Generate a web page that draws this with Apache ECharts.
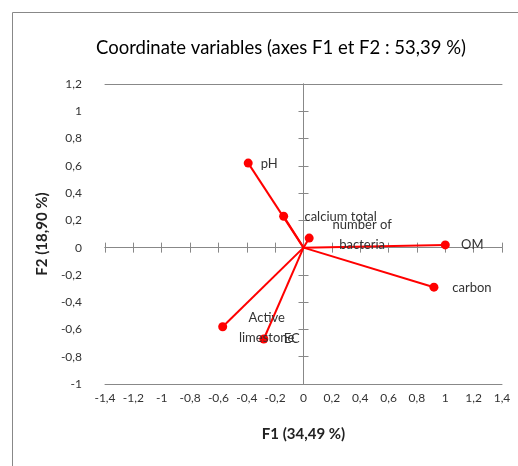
<!DOCTYPE html>
<html>
<head>
<meta charset="utf-8">
<script src="https://cdn.jsdelivr.net/npm/echarts@6/dist/echarts.min.js"></script>
<style>
  html, body { margin: 0; padding: 0; background: #fff; }
  #chart { width: 518px; height: 466px; }
</style>
</head>
<body>
<div id="chart"></div>
<script>
// Variable coordinates on the first two factorial axes
const variables = ['pH', 'calcium total', 'number of\nbacteria', 'OM', 'carbon', 'Active\nlimestone', 'EC'];
const f1 = [-0.39, -0.14, 0.04, 1.00, 0.92, -0.57, -0.28];
const f2 = [0.62, 0.23, 0.07, 0.02, -0.29, -0.58, -0.67];

// Axis ranges and ticks
const xMin = -1.4, xMax = 1.4, xStep = 0.2;
const yMin = -1.0, yMax = 1.2, yStep = 0.2;

// Label placement relative to each end point (pixels)
const labelShift = [[21, 1], [57, 1], [53, -3], [27, 0], [38, 1], [44, 1], [28, 0]];

const FONT = 'Lato, "Open Sans", sans-serif';
const AXIS_GRAY = '#888888';
const fmt = v => String(+(+v).toFixed(1)).replace('.', ',');

const chart = echarts.init(document.getElementById('chart'));

const series = variables.map((name, i) => ({
  type: 'line',
  name: name,
  xAxisIndex: 0,
  yAxisIndex: 0,
  symbol: 'circle',
  symbolSize: 9,
  lineStyle: { color: '#ff0000', width: 2 },
  itemStyle: { color: '#ff0000' },
  z: 5,
  data: [
    { value: [0, 0], symbol: 'none', label: { show: false } },
    {
      value: [f1[i], f2[i]],
      label: {
        show: true,
        position: 'inside',
        offset: labelShift[i],
        formatter: name,
        color: '#333333',
        fontFamily: FONT,
        fontSize: 13,
        lineHeight: 20,
        align: 'center'
      }
    }
  ]
}));

const zeroXAxis = (inside) => ({
  type: 'value', position: 'bottom', min: xMin, max: xMax, interval: xStep,
  axisLine: { show: true, onZero: true, onZeroAxisIndex: 0, lineStyle: { color: AXIS_GRAY, width: 1 } },
  axisTick: { show: true, inside: inside, length: 5, lineStyle: { color: AXIS_GRAY } },
  axisLabel: { show: false }, splitLine: { show: false }
});
const zeroYAxis = (inside) => ({
  type: 'value', position: 'left', min: yMin, max: yMax, interval: yStep,
  axisLine: { show: true, onZero: true, onZeroAxisIndex: 0, lineStyle: { color: AXIS_GRAY, width: 1 } },
  axisTick: { show: true, inside: inside, length: 5, lineStyle: { color: AXIS_GRAY } },
  axisLabel: { show: false }, splitLine: { show: false }
});

chart.setOption({
  animation: false,
  backgroundColor: '#ffffff',
  title: {
    text: 'Coordinate variables (axes F1 et F2 : 53,39 %)',
    left: 276, top: 34, textAlign: 'center',
    textStyle: { fontFamily: FONT, fontSize: 18.5, fontWeight: 'normal', color: '#000' }
  },
  graphic: [{
    type: 'rect', shape: { x: 12.5, y: 12.5, width: 520, height: 470 },
    style: { fill: 'none', stroke: '#888888', lineWidth: 1 }, silent: true, z: -1
  }],
  grid: { left: 105, right: 16, top: 84, bottom: 82 },
  xAxis: [
    {
      type: 'value', position: 'bottom', min: xMin, max: xMax, interval: xStep,
      name: 'F1 (34,49 %)', nameLocation: 'middle', nameGap: 43,
      nameTextStyle: { fontFamily: FONT, fontSize: 15, fontWeight: 'bold', color: '#222' },
      axisLine: { show: true, onZero: false, lineStyle: { color: AXIS_GRAY, width: 1 } },
      axisTick: { show: false },
      axisLabel: { formatter: fmt, margin: 8, fontFamily: FONT, fontSize: 12, color: '#333' },
      splitLine: { show: false }
    },
    {
      type: 'value', position: 'top', min: xMin, max: xMax,
      axisLine: { show: true, onZero: false, lineStyle: { color: AXIS_GRAY, width: 1 } },
      axisTick: { show: false }, axisLabel: { show: false }, splitLine: { show: false }
    },
    zeroXAxis(false),
    zeroXAxis(true)
  ],
  yAxis: [
    {
      type: 'value', position: 'left', min: yMin, max: yMax, interval: yStep,
      name: 'F2 (18,90 %)', nameLocation: 'middle', nameGap: 48, nameRotate: 90,
      nameTextStyle: { fontFamily: FONT, fontSize: 15, fontWeight: 'bold', color: '#222' },
      axisLine: { show: false, onZero: false },
      axisTick: { show: false },
      axisLabel: { formatter: fmt, margin: 23, fontFamily: FONT, fontSize: 12, color: '#333' },
      splitLine: { show: false }
    },
    zeroYAxis(false),
    zeroYAxis(true)
  ],
  series: series
});
</script>
</body>
</html>
